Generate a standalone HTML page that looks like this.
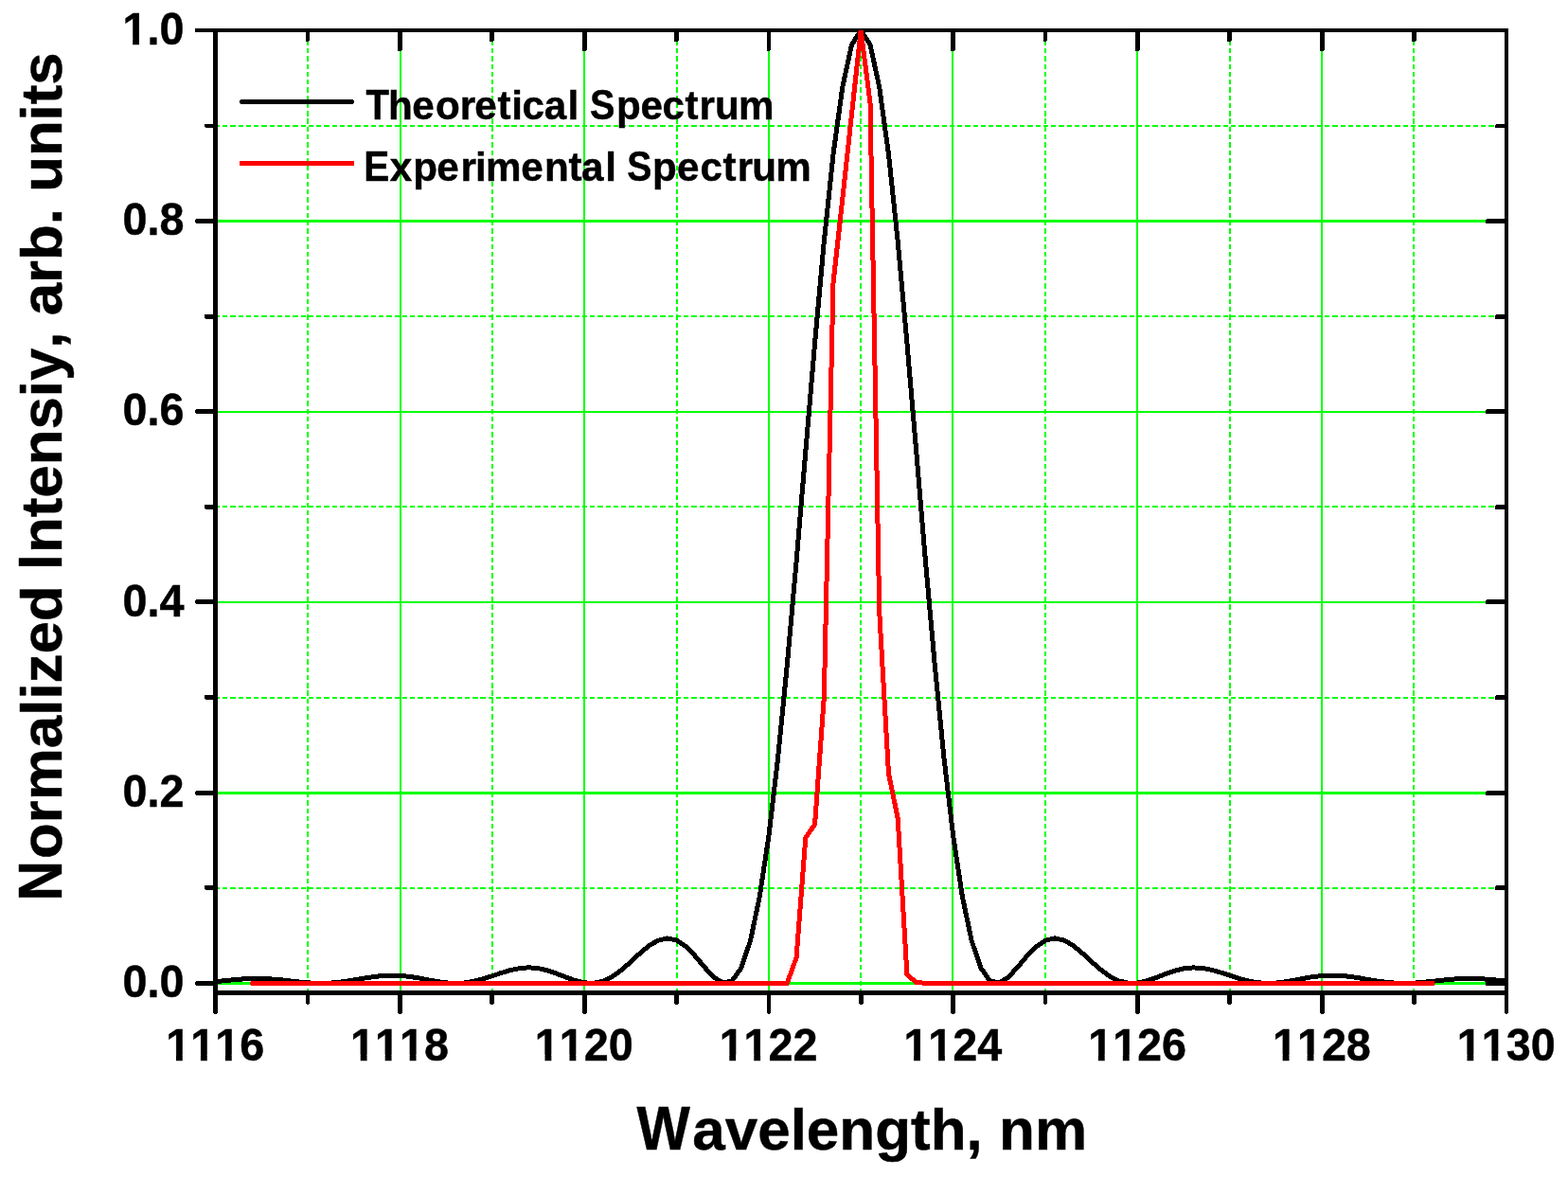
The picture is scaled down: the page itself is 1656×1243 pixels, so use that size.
<!DOCTYPE html>
<html lang="en"><head><meta charset="utf-8"><title>Theoretical and Experimental Spectrum</title>
<style>
html,body{margin:0;padding:0;background:#fff;}
body{width:1656px;height:1243px;overflow:hidden;}
svg{display:block;}
text{font-family:"Liberation Sans",Arial,Helvetica,sans-serif;font-weight:700;fill:#000;font-kerning:none;stroke:#000;stroke-width:0.45px;stroke-linejoin:miter;}
.tick{font-size:46.7px;}
.title{font-size:62px;}
.leg{font-size:42.2px;}
</style></head><body>
<svg width="1656" height="1243" viewBox="0 0 1656 1243">
<rect x="0" y="0" width="1656" height="1243" fill="#fff"/>
<g id="grid" shape-rendering="crispEdges" fill="#00ff00" stroke="none">
<rect x="422" y="34" width="2" height="1012"/>
<rect x="616" y="34" width="2" height="1012"/>
<rect x="811" y="34" width="2" height="1012"/>
<rect x="1005" y="34" width="2" height="1012"/>
<rect x="1200" y="34" width="2" height="1012"/>
<rect x="1395" y="34" width="2" height="1012"/>
<rect x="230" y="1037" width="1359" height="3"/>
<rect x="230" y="836" width="1359" height="3"/>
<rect x="230" y="635" width="1359" height="2"/>
<rect x="230" y="434" width="1359" height="2"/>
<rect x="230" y="232" width="1359" height="3"/>
</g>
<g id="minorgrid" shape-rendering="crispEdges" stroke="#00ff00" stroke-width="2" fill="none">
<line x1="325" y1="34.48" x2="325" y2="1046" stroke-dasharray="5.3 2.974"/>
<line x1="520" y1="34.48" x2="520" y2="1046" stroke-dasharray="5.3 2.974"/>
<line x1="715" y1="34.48" x2="715" y2="1046" stroke-dasharray="5.3 2.974"/>
<line x1="909" y1="34.48" x2="909" y2="1046" stroke-dasharray="5.3 2.974"/>
<line x1="1104" y1="34.48" x2="1104" y2="1046" stroke-dasharray="5.3 2.974"/>
<line x1="1299" y1="34.48" x2="1299" y2="1046" stroke-dasharray="5.3 2.974"/>
<line x1="1493" y1="34.48" x2="1493" y2="1046" stroke-dasharray="5.3 2.974"/>
<line x1="226.8" y1="938" x2="1589" y2="938" stroke-dasharray="5.3 2.955"/>
<line x1="226.8" y1="737" x2="1589" y2="737" stroke-dasharray="5.3 2.955"/>
<line x1="226.8" y1="535" x2="1589" y2="535" stroke-dasharray="5.3 2.955"/>
<line x1="226.8" y1="334" x2="1589" y2="334" stroke-dasharray="5.3 2.955"/>
<line x1="226.8" y1="133" x2="1589" y2="133" stroke-dasharray="5.3 2.955"/>
</g>
<g id="axes" shape-rendering="crispEdges" fill="#000" stroke="none">
<rect x="206" y="30" width="1387" height="4"/>
<rect x="225" y="30" width="5" height="1040"/>
<rect x="226" y="1070" width="3" height="1"/>
<rect x="225" y="1046" width="1368" height="5"/>
<rect x="1589" y="30" width="4" height="1040"/>
<rect x="1590" y="1070" width="2" height="1"/>
<rect x="323" y="34" width="4" height="9"/>
<rect x="323" y="43" width="3" height="1"/>
<rect x="323" y="1051" width="4" height="9"/>
<rect x="324" y="1060" width="2" height="1"/>
<rect x="420" y="34" width="5" height="19"/>
<rect x="420" y="53" width="4" height="1"/>
<rect x="420" y="1051" width="5" height="19"/>
<rect x="421" y="1070" width="3" height="1"/>
<rect x="517" y="34" width="5" height="9"/>
<rect x="517" y="43" width="4" height="1"/>
<rect x="517" y="1051" width="5" height="9"/>
<rect x="518" y="1060" width="3" height="1"/>
<rect x="615" y="34" width="5" height="19"/>
<rect x="615" y="53" width="4" height="1"/>
<rect x="615" y="1051" width="5" height="19"/>
<rect x="616" y="1070" width="3" height="1"/>
<rect x="712" y="34" width="5" height="9"/>
<rect x="712" y="43" width="4" height="1"/>
<rect x="712" y="1051" width="5" height="9"/>
<rect x="713" y="1060" width="3" height="1"/>
<rect x="810" y="34" width="4" height="19"/>
<rect x="810" y="53" width="3" height="1"/>
<rect x="810" y="1051" width="4" height="19"/>
<rect x="811" y="1070" width="2" height="1"/>
<rect x="907" y="34" width="5" height="9"/>
<rect x="907" y="43" width="4" height="1"/>
<rect x="907" y="1051" width="5" height="9"/>
<rect x="908" y="1060" width="3" height="1"/>
<rect x="1004" y="34" width="5" height="19"/>
<rect x="1004" y="53" width="4" height="1"/>
<rect x="1004" y="1051" width="5" height="19"/>
<rect x="1005" y="1070" width="3" height="1"/>
<rect x="1102" y="34" width="4" height="9"/>
<rect x="1102" y="43" width="3" height="1"/>
<rect x="1102" y="1051" width="4" height="9"/>
<rect x="1103" y="1060" width="2" height="1"/>
<rect x="1199" y="34" width="5" height="19"/>
<rect x="1199" y="53" width="4" height="1"/>
<rect x="1199" y="1051" width="5" height="19"/>
<rect x="1200" y="1070" width="3" height="1"/>
<rect x="1296" y="34" width="5" height="9"/>
<rect x="1296" y="43" width="4" height="1"/>
<rect x="1296" y="1051" width="5" height="9"/>
<rect x="1297" y="1060" width="3" height="1"/>
<rect x="1394" y="34" width="5" height="19"/>
<rect x="1394" y="53" width="4" height="1"/>
<rect x="1394" y="1051" width="5" height="19"/>
<rect x="1395" y="1070" width="3" height="1"/>
<rect x="1491" y="34" width="5" height="9"/>
<rect x="1491" y="43" width="4" height="1"/>
<rect x="1491" y="1051" width="5" height="9"/>
<rect x="1492" y="1060" width="3" height="1"/>
<rect x="207" y="1036" width="18" height="5"/>
<rect x="206" y="1037" width="1" height="3"/>
<rect x="1570" y="1036" width="19" height="5"/>
<rect x="1569" y="1037" width="1" height="4"/>
<rect x="217" y="935" width="8" height="5"/>
<rect x="216" y="935" width="1" height="4"/>
<rect x="1580" y="935" width="9" height="5"/>
<rect x="1579" y="936" width="1" height="4"/>
<rect x="207" y="835" width="18" height="5"/>
<rect x="206" y="836" width="1" height="3"/>
<rect x="1570" y="835" width="19" height="5"/>
<rect x="1569" y="836" width="1" height="4"/>
<rect x="217" y="734" width="8" height="5"/>
<rect x="216" y="734" width="1" height="4"/>
<rect x="1580" y="734" width="9" height="5"/>
<rect x="1579" y="735" width="1" height="4"/>
<rect x="207" y="633" width="18" height="5"/>
<rect x="206" y="634" width="1" height="3"/>
<rect x="1570" y="633" width="19" height="5"/>
<rect x="1569" y="634" width="1" height="4"/>
<rect x="217" y="533" width="8" height="5"/>
<rect x="216" y="533" width="1" height="4"/>
<rect x="1580" y="533" width="9" height="5"/>
<rect x="1579" y="534" width="1" height="4"/>
<rect x="207" y="432" width="18" height="5"/>
<rect x="206" y="433" width="1" height="3"/>
<rect x="1570" y="432" width="19" height="5"/>
<rect x="1569" y="433" width="1" height="4"/>
<rect x="217" y="332" width="8" height="5"/>
<rect x="216" y="332" width="1" height="4"/>
<rect x="1580" y="332" width="9" height="5"/>
<rect x="1579" y="333" width="1" height="4"/>
<rect x="207" y="231" width="18" height="5"/>
<rect x="206" y="232" width="1" height="3"/>
<rect x="1570" y="231" width="19" height="5"/>
<rect x="1569" y="232" width="1" height="4"/>
<rect x="217" y="131" width="8" height="4"/>
<rect x="216" y="131" width="1" height="3"/>
<rect x="1580" y="131" width="9" height="4"/>
<rect x="1579" y="132" width="1" height="3"/>
</g>
<defs><clipPath id="plotclip"><rect x="227" y="32" width="1364" height="1017"/></clipPath></defs>
<g id="data" clip-path="url(#plotclip)" fill="none" stroke-linejoin="round" stroke-linecap="butt" shape-rendering="crispEdges">
<polyline stroke="#000" stroke-width="5" points="227.5,1036.7 237.2,1035.7 247.0,1034.7 256.7,1033.9 266.5,1033.4 276.2,1033.4 285.9,1033.9 295.7,1034.7 305.4,1035.8 315.2,1036.9 324.9,1037.8 334.6,1038.4 344.4,1038.4 354.1,1037.7 363.9,1036.6 373.6,1035.0 383.3,1033.3 393.1,1031.8 402.8,1030.6 412.5,1030.1 422.3,1030.3 432.0,1031.3 441.8,1032.8 451.5,1034.7 461.2,1036.5 471.0,1037.9 480.7,1038.4 490.5,1038.0 500.2,1036.4 509.9,1033.9 519.7,1030.8 529.4,1027.5 539.2,1024.6 548.9,1022.6 558.6,1021.8 568.4,1022.6 578.1,1024.9 587.9,1028.2 597.6,1032.0 607.3,1035.5 617.1,1037.9 626.8,1038.3 636.6,1036.3 646.3,1031.7 656.0,1024.7 665.8,1016.1 675.5,1007.1 685.2,998.9 695.0,993.2 704.7,990.9 714.5,993.0 724.2,999.4 733.9,1009.3 743.7,1021.0 753.4,1031.6 763.2,1037.9 772.9,1036.2 782.6,1022.6 792.4,993.9 802.1,947.7 811.9,883.1 821.6,800.5 831.3,702.4 841.1,592.8 850.8,477.2 860.6,362.3 870.3,255.2 880.0,163.0 889.8,92.0 899.5,47.3 909.2,32.0 919.0,47.3 928.7,92.0 938.5,162.9 948.2,255.0 957.9,362.0 967.7,476.7 977.4,592.2 987.2,701.7 996.9,799.7 1006.6,882.3 1016.4,947.0 1026.1,993.3 1035.9,1022.2 1045.6,1036.0 1055.3,1038.0 1065.1,1031.9 1074.8,1021.3 1084.6,1009.7 1094.3,999.8 1104.0,993.2 1113.8,990.9 1123.5,992.9 1133.3,998.5 1143.0,1006.5 1152.7,1015.5 1162.5,1024.1 1172.2,1031.2 1181.9,1036.0 1191.7,1038.2 1201.4,1038.0 1211.2,1035.9 1220.9,1032.5 1230.6,1028.7 1240.4,1025.3 1250.1,1022.9 1259.9,1021.9 1269.6,1022.4 1279.3,1024.2 1289.1,1027.0 1298.8,1030.2 1308.6,1033.4 1318.3,1036.0 1328.0,1037.7 1337.8,1038.4 1347.5,1038.1 1357.3,1036.9 1367.0,1035.2 1376.7,1033.3 1386.5,1031.6 1396.2,1030.5 1406.0,1030.0 1415.7,1030.3 1425.4,1031.3 1435.2,1032.8 1444.9,1034.5 1454.6,1036.1 1464.4,1037.4 1474.1,1038.2 1483.9,1038.4 1493.6,1038.1 1503.3,1037.3 1513.1,1036.3 1522.8,1035.2 1532.6,1034.2 1542.3,1033.6 1552.0,1033.4 1561.8,1033.6 1571.5,1034.2 1581.3,1035.2 1591.0,1036.2"/>
<polyline stroke="#ff0000" stroke-width="5" stroke-linecap="round" points="266.5,1038.4 831.3,1038.4 841.1,1011.3 850.8,885.0 860.6,870.4 870.3,736.5 880.0,298.7 889.8,210.1 899.5,120.6 909.2,32.0 919.0,108.5 928.7,645.9 938.5,817.0 948.2,864.3 957.9,1029.4 967.7,1037.4 977.4,1038.4 1513.1,1038.4"/>
</g>
<g id="legend">
<line x1="255.5" y1="107.5" x2="371.5" y2="107.5" stroke="#000" stroke-width="5" stroke-linecap="round" shape-rendering="crispEdges"/>
<rect x="253" y="170" width="121" height="5" fill="#ff0000" shape-rendering="crispEdges"/>
<text class="leg" y="126"><tspan x="386.57" font-size="44.70" textLength="24.53" lengthAdjust="spacingAndGlyphs">T</tspan><tspan x="409.9 435.3 460.0 485.7 501.3 525.4 540.2 551.6 574.8 599.4 611.1">heoretical </tspan><tspan x="622.98" font-size="44.70" textLength="26.44" lengthAdjust="spacingAndGlyphs">S</tspan><tspan x="651.0 676.4 699.6 723.5 738.6 755.1 780.0">pectrum</tspan></text>
<text class="leg" y="191"><tspan x="384.31" font-size="44.70" textLength="27.05" lengthAdjust="spacingAndGlyphs">E</tspan><tspan x="411.8 436.2 461.2 486.6 502.1 513.0 550.2 575.1 600.4 613.9 639.3 651.0">xperimental </tspan><tspan x="662.20" font-size="44.70" textLength="26.11" lengthAdjust="spacingAndGlyphs">S</tspan><tspan x="689.1 715.1 739.6 763.5 778.8 794.2 819.2">pectrum</tspan></text>
</g>
<g id="ticklabels">
<clipPath id="c1"><path clip-rule="evenodd" d="M165.3 1070.0H289.1V1135.0H165.3ZM174.79 1113.70H185.96V1123.00H174.79ZM192.76 1113.70H211.93V1123.00H192.76ZM218.73 1113.70H237.90V1123.00H218.73ZM244.71 1113.70H254.52V1123.00H244.71Z"/></clipPath>
<g clip-path="url(#c1)"><text class="tick" text-anchor="middle" transform="translate(227.20,1120.00) scale(1,1.030)">1116</text></g>
<clipPath id="c2"><path clip-rule="evenodd" d="M360.0 1070.0H483.9V1135.0H360.0ZM369.57 1113.70H380.74V1123.00H369.57ZM387.55 1113.70H406.71V1123.00H387.55ZM413.52 1113.70H432.69V1123.00H413.52ZM439.49 1113.70H449.31V1123.00H439.49Z"/></clipPath>
<g clip-path="url(#c2)"><text class="tick" text-anchor="middle" transform="translate(421.99,1120.00) scale(1,1.030)">1118</text></g>
<clipPath id="c3"><path clip-rule="evenodd" d="M554.8 1070.0H678.7V1135.0H554.8ZM564.36 1113.70H575.53V1123.00H564.36ZM582.33 1113.70H601.50V1123.00H582.33ZM608.31 1113.70H618.12V1123.00H608.31Z"/></clipPath>
<g clip-path="url(#c3)"><text class="tick" text-anchor="middle" transform="translate(616.77,1120.00) scale(1,1.030)">1120</text></g>
<clipPath id="c4"><path clip-rule="evenodd" d="M749.6 1070.0H873.5V1135.0H749.6ZM759.15 1113.70H770.31V1123.00H759.15ZM777.12 1113.70H796.28V1123.00H777.12ZM803.09 1113.70H812.90V1123.00H803.09Z"/></clipPath>
<g clip-path="url(#c4)"><text class="tick" text-anchor="middle" transform="translate(811.56,1120.00) scale(1,1.030)">1122</text></g>
<clipPath id="c5"><path clip-rule="evenodd" d="M944.4 1070.0H1068.3V1135.0H944.4ZM953.93 1113.70H965.10V1123.00H953.93ZM971.91 1113.70H991.07V1123.00H971.91ZM997.88 1113.70H1007.69V1123.00H997.88Z"/></clipPath>
<g clip-path="url(#c5)"><text class="tick" text-anchor="middle" transform="translate(1006.34,1120.00) scale(1,1.030)">1124</text></g>
<clipPath id="c6"><path clip-rule="evenodd" d="M1139.2 1070.0H1263.1V1135.0H1139.2ZM1148.72 1113.70H1159.88V1123.00H1148.72ZM1166.69 1113.70H1185.86V1123.00H1166.69ZM1192.66 1113.70H1202.48V1123.00H1192.66Z"/></clipPath>
<g clip-path="url(#c6)"><text class="tick" text-anchor="middle" transform="translate(1201.13,1120.00) scale(1,1.030)">1126</text></g>
<clipPath id="c7"><path clip-rule="evenodd" d="M1334.0 1070.0H1457.9V1135.0H1334.0ZM1343.50 1113.70H1354.67V1123.00H1343.50ZM1361.48 1113.70H1380.64V1123.00H1361.48ZM1387.45 1113.70H1397.26V1123.00H1387.45Z"/></clipPath>
<g clip-path="url(#c7)"><text class="tick" text-anchor="middle" transform="translate(1395.91,1120.00) scale(1,1.030)">1128</text></g>
<clipPath id="c8"><path clip-rule="evenodd" d="M1528.8 1070.0H1652.6V1135.0H1528.8ZM1538.29 1113.70H1549.46V1123.00H1538.29ZM1556.26 1113.70H1575.43V1123.00H1556.26ZM1582.23 1113.70H1592.05V1123.00H1582.23Z"/></clipPath>
<g clip-path="url(#c8)"><text class="tick" text-anchor="middle" transform="translate(1590.70,1120.00) scale(1,1.030)">1130</text></g>
<text class="tick" text-anchor="end" transform="translate(194.40,1053.24) scale(1,1.030)">0.0</text>
<text class="tick" text-anchor="end" transform="translate(194.40,851.95) scale(1,1.030)">0.2</text>
<text class="tick" text-anchor="end" transform="translate(194.40,650.66) scale(1,1.030)">0.4</text>
<text class="tick" text-anchor="end" transform="translate(194.40,449.37) scale(1,1.030)">0.6</text>
<text class="tick" text-anchor="end" transform="translate(194.40,248.09) scale(1,1.030)">0.8</text>
<clipPath id="c9"><path clip-rule="evenodd" d="M119.5 -3.2H204.4V61.8H119.5ZM129.01 40.50H140.18V49.80H129.01ZM146.99 40.50H156.80V49.80H146.99Z"/></clipPath>
<g clip-path="url(#c9)"><text class="tick" text-anchor="end" transform="translate(194.40,46.80) scale(1,1.030)">1.0</text></g>
</g>
<text class="title" y="1214.2"><tspan x="672.57" font-size="64.75" textLength="56.37" lengthAdjust="spacingAndGlyphs">W</tspan><tspan x="731.2">avelength, nm</tspan></text>
<text class="title" style="font-size:61.8px" transform="translate(65.2,951.5) rotate(-90)"><tspan x="0.08" font-size="64.54" textLength="42.56" lengthAdjust="spacingAndGlyphs">N</tspan><tspan x="44.63">ormalized </tspan><tspan x="349.89" font-size="64.54" textLength="15.91" lengthAdjust="spacingAndGlyphs">I</tspan><tspan x="367.45">ntensiy, arb. units</tspan></text>
</svg>
</body></html>
